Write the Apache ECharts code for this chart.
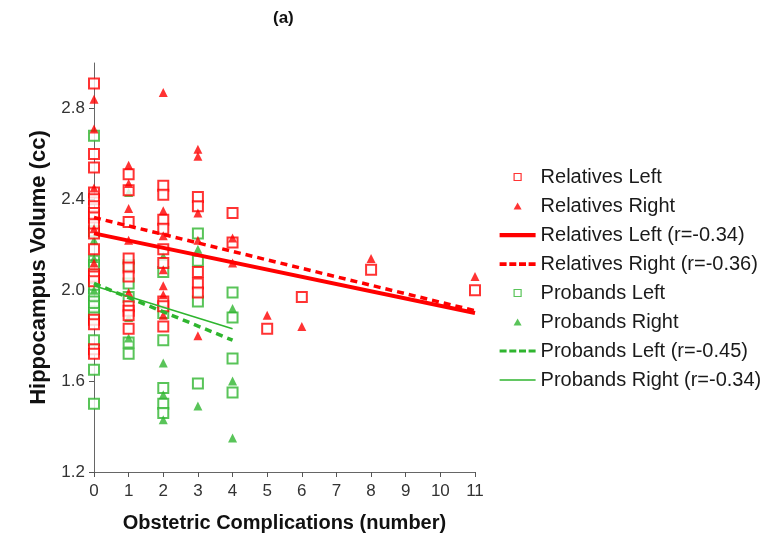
<!DOCTYPE html>
<html>
<head>
<meta charset="utf-8">
<script src="https://cdn.jsdelivr.net/npm/echarts@6/dist/echarts.min.js"></script>
<style>
html,body{margin:0;padding:0;background:#fff;}
#main{width:784px;height:534px;}
</style>
</head>
<body>
<div id="main"></div>
<script>
// 数据：[并发症数, 海马体积]
var relLeft = [
	[0,2.91],[0,2.60],[0,2.54],[0,2.43],[0,2.40],[0,2.37],[0,2.34],[0,2.32],[0,2.29],[0,2.25],
	[0,2.18],[0,2.07],[0,2.06],[0,2.04],[0,1.87],[0,1.85],[0,1.74],[0,1.72],
	[1,2.51],[1,2.44],[1,2.30],[1,2.14],[1,2.10],[1,2.06],[1,1.93],[1,1.91],[1,1.89],[1,1.83],
	[2,2.46],[2,2.42],[2,2.31],[2,2.27],[2,2.18],[2,2.12],[2,1.95],[2,1.93],[2,1.84],
	[3,2.41],[3,2.37],[3,2.08],[3,2.03],[3,1.99],
	[4,2.34],[4,2.21],
	[5,1.83],[6,1.97],[8,2.09],[11,2.00]
];
var relRight = [
	[0,2.84],[0,2.71],[0,2.45],[0,2.27],[0,2.12],
	[1,2.55],[1,2.47],[1,2.36],[1,2.22],[1,1.99],
	[2,2.87],[2,2.35],[2,2.24],[2,2.09],[2,2.02],[2,1.98],[2,1.89],
	[3,2.62],[3,2.59],[3,2.34],[3,2.22],[3,1.80],
	[4,2.23],[4,2.12],
	[5,1.89],[6,1.84],[8,2.14],[11,2.06]
];
var probLeft = [
	[0,2.68],[0,2.26],[0,2.13],[0,2.11],[0,2.01],[0,1.98],[0,1.95],[0,1.93],[0,1.90],[0,1.88],
	[0,1.78],[0,1.65],[0,1.50],
	[1,2.11],[1,2.03],[1,1.97],[1,1.77],[1,1.72],
	[2,2.08],[2,1.90],[2,1.78],[2,1.57],[2,1.50],[2,1.46],
	[3,2.25],[3,2.13],[3,1.95],[3,1.59],
	[4,1.99],[4,1.88],[4,1.70],[4,1.55]
];
var probRight = [
	[0,2.22],[0,2.14],[0,2.00],
	[1,2.43],[1,1.88],[1,1.79],
	[2,2.15],[2,1.68],[2,1.54],[2,1.43],
	[3,2.18],[3,1.49],
	[4,1.92],[4,1.60],[4,1.35]
];
// 回归线端点
var relLeftFit = [[0,2.25],[11,1.90]];
var relRightFit = [[0,2.32],[11,1.91]];
var probLeftFit = [[0,2.03],[4,1.78]];
var probRightFit = [[0,2.02],[4,1.83]];
var yTicks = [1.2,1.6,2.0,2.4,2.8];

var RED = '#ff0000', GREEN = '#2fb52f';
var FONT = '"Liberation Sans", Arial, sans-serif';

// 图例图标（36x9 的框，两端零长线段撑开边界）
var BOX = 'M0,0L0,0M36,9L36,9';
var ICON_SQUARE = 'path://' + BOX + 'M14.5,1h7v7h-7z';
var ICON_TRI = 'path://' + BOX + 'M18,1L22,8L14,8Z';
var ICON_SOLID = 'path://' + BOX + 'M0,2.5h36v4.2h-36z';
var ICON_DASH = 'path://' + BOX + 'M0,2.8h7v3.6h-7zM9.7,2.8h7v3.6h-7zM19.4,2.8h7v3.6h-7zM29,2.8h7v3.6h-7z';
var ICON_DASH_G = 'path://' + BOX + 'M0,3h7v3h-7zM9.7,3h7v3h-7zM19.4,3h7v3h-7zM29,3h7v3h-7z';
var ICON_THIN = 'path://' + BOX + 'M0,3.8h36v1.4h-36z';

var myChart = echarts.init(document.getElementById('main'));
var option = {
	animation: false,
	backgroundColor: '#fff',
	title: {
		text: '(a)',
		left: 268,
		top: 5,
		textStyle: {fontFamily: FONT, fontSize: 17, fontWeight: 'bold', color: '#111'}
	},
	legend: {
		orient: 'vertical',
		left: 494,
		top: 162,
		itemWidth: 36,
		itemHeight: 9,
		itemGap: 9,
		textStyle: {fontFamily: FONT, fontSize: 20, color: '#1a1a1a'},
		data: [
			{name: 'Relatives Left', icon: ICON_SQUARE, itemStyle: {color: '#fff', borderColor: RED, borderWidth: 1.2}},
			{name: 'Relatives Right', icon: ICON_TRI, itemStyle: {color: RED, borderWidth: 0}},
			{name: 'Relatives Left (r=-0.34)', icon: ICON_SOLID, itemStyle: {color: RED, borderWidth: 0}},
			{name: 'Relatives Right (r=-0.36)', icon: ICON_DASH, itemStyle: {color: RED, borderWidth: 0}},
			{name: 'Probands Left', icon: ICON_SQUARE, itemStyle: {color: '#fff', borderColor: GREEN, borderWidth: 1.2}},
			{name: 'Probands Right', icon: ICON_TRI, itemStyle: {color: GREEN, borderWidth: 0}},
			{name: 'Probands Left (r=-0.45)', icon: ICON_DASH_G, itemStyle: {color: GREEN, borderWidth: 0}},
			{name: 'Probands Right (r=-0.34)', icon: ICON_THIN, itemStyle: {color: GREEN, borderWidth: 0}}
		]
	},
	grid: {left: 94, right: 309, top: 63, bottom: 62, outerBoundsMode: 'none'},
	xAxis: {
		type: 'value', min: 0, max: 11, interval: 1,
		name: 'Obstetric Complications (number)',
		nameLocation: 'middle', nameGap: 41,
		nameTextStyle: {fontFamily: FONT, fontSize: 20, fontWeight: 'bold', color: '#111'},
		axisLine: {lineStyle: {color: '#666'}},
		axisTick: {show: true, length: 5, lineStyle: {color: '#555'}},
		axisLabel: {fontFamily: FONT, fontSize: 17, color: '#333', margin: 11},
		splitLine: {show: false}
	},
	yAxis: {
		type: 'value', min: 1.2, max: 3.0, interval: 0.4,
		name: 'Hippocampus Volume (cc)',
		nameLocation: 'middle', nameGap: 44,
		nameTextStyle: {fontFamily: FONT, fontSize: 22, fontWeight: 'bold', color: '#111'},
		axisLine: {show: true, lineStyle: {color: '#666'}},
		axisTick: {show: true, length: 5, lineStyle: {color: '#555'}, customValues: yTicks},
		axisLabel: {fontFamily: FONT, fontSize: 17, color: '#333', margin: 9, customValues: yTicks,
			formatter: function(v){ return v.toFixed(1); }},
		splitLine: {show: false}
	},
	series: [
		{name: 'Probands Left', type: 'scatter', data: probLeft, symbol: 'emptyRect', symbolSize: 10,
			itemStyle: {color: GREEN, borderColor: GREEN, borderWidth: 1.3}},
		{name: 'Probands Right', type: 'scatter', data: probRight, symbol: 'triangle', symbolSize: 9,
			itemStyle: {color: GREEN}},
		{name: 'Relatives Left', type: 'scatter', data: relLeft, symbol: 'emptyRect', symbolSize: 10,
			itemStyle: {color: RED, borderColor: RED, borderWidth: 1.3}},
		{name: 'Relatives Right', type: 'scatter', data: relRight, symbol: 'triangle', symbolSize: 9,
			itemStyle: {color: RED}},
		{name: 'Probands Left (r=-0.45)', type: 'line', data: probLeftFit, symbol: 'none',
			lineStyle: {color: GREEN, width: 3.5, type: [7,5]}, itemStyle: {color: GREEN}},
		{name: 'Probands Right (r=-0.34)', type: 'line', data: probRightFit, symbol: 'none',
			lineStyle: {color: GREEN, width: 1.6}, itemStyle: {color: GREEN}},
		{name: 'Relatives Left (r=-0.34)', type: 'line', data: relLeftFit, symbol: 'none',
			lineStyle: {color: RED, width: 4}, itemStyle: {color: RED}},
		{name: 'Relatives Right (r=-0.36)', type: 'line', data: relRightFit, symbol: 'none',
			lineStyle: {color: RED, width: 3.5, type: [7,5]}, itemStyle: {color: RED}}
	]
};
myChart.setOption(option);
</script>
</body>
</html>
